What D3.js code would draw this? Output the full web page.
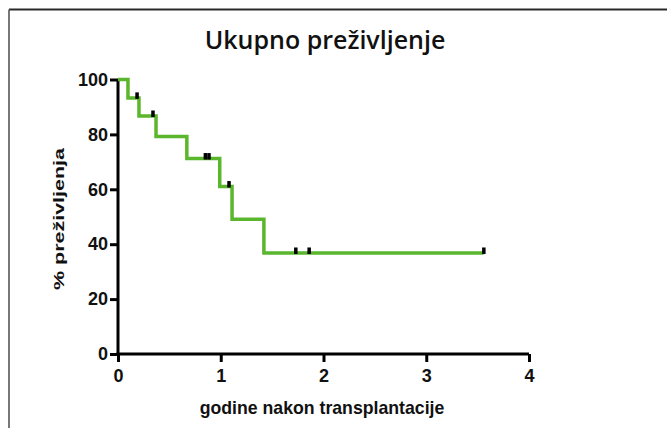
<!DOCTYPE html>
<html>
<head>
<meta charset="utf-8">
<script src="https://cdn.jsdelivr.net/npm/d3@7"></script>
<style>
  html, body { margin: 0; padding: 0; background: #fff; }
  svg { display: block; }
</style>
</head>
<body>
<svg id="chart" width="667" height="428"></svg>
<script>
// Kaplan-Meier overall survival: step drops (time in years, survival %)
const eventTimes  = [0, 0.097, 0.204, 0.37, 0.67, 0.99, 1.11, 1.42, 3.56];
const survival    = [100, 93.3, 86.7, 79.2, 71.2, 61.0, 49.1, 36.8, 36.8];
// Censored observations (time, survival level at that time)
const censorTimes = [0.185, 0.34, 0.85, 0.885, 1.08, 1.73, 1.86, 3.56];
const censorLevel = [93.3, 86.7, 71.2, 71.2, 61.0, 36.8, 36.8, 36.8];
const xTicks = [0, 1, 2, 3, 4];
const yTicks = [0, 20, 40, 60, 80, 100];

const svg = d3.select("#chart");

// outer frame
svg.append("line").attr("x1", 9).attr("x2", 667).attr("y1", 9.5).attr("y2", 9.5)
  .attr("stroke", "#2a2a2a").attr("stroke-width", 2);
svg.append("line").attr("x1", 9).attr("x2", 9).attr("y1", 9.5).attr("y2", 428)
  .attr("stroke", "#555").attr("stroke-width", 1.6);

const x = d3.scaleLinear().domain([0, 4]).range([118, 529]);
const y = d3.scaleLinear().domain([0, 100]).range([354, 79.5]);

const tickFont = "Liberation Sans, Arial, sans-serif";

// x axis
const gx = svg.append("g").attr("transform", `translate(0,${y(0)})`)
  .call(d3.axisBottom(x).tickValues(xTicks).tickFormat(d3.format("d"))
    .tickSizeInner(8).tickSizeOuter(0).tickPadding(7));
// y axis
const gy = svg.append("g").attr("transform", `translate(${x(0)},0)`)
  .call(d3.axisLeft(y).tickValues(yTicks).tickFormat(d3.format("d"))
    .tickSizeInner(8).tickSizeOuter(0).tickPadding(2));

[gx, gy].forEach(g => {
  g.select(".domain").attr("stroke", "#000").attr("stroke-width", 3);
  g.selectAll(".tick line").attr("stroke", "#000").attr("stroke-width", 3);
  g.selectAll(".tick text").attr("fill", "#111")
    .style("font-family", tickFont).style("font-weight", "bold").style("font-size", "18px");
});
gy.select(".domain").attr("d", `M0,${y(0) + 1.5}V${y(100)}`);
gx.select(".domain").attr("d", `M${x(0) - 1.5},0H${x(4)}`);

// survival curve
const pts = eventTimes.map((t, i) => [t, survival[i]]);
const line = d3.line().x(d => x(d[0])).y(d => y(d[1])).curve(d3.curveStepAfter);
svg.append("path").datum(pts).attr("d", line)
  .attr("fill", "none").attr("stroke", "#5ab62c").attr("stroke-width", 3.5);

// censor marks
svg.append("g").selectAll("rect").data(censorTimes).join("rect")
  .attr("x", d => x(d) - 1.7)
  .attr("y", (d, i) => y(censorLevel[i]) - 5.5)
  .attr("width", 3.5).attr("height", 6.5)
  .attr("fill", "#000");

// title
svg.append("text").attr("x", 325).attr("y", 49).attr("text-anchor", "middle")
  .style("font-family", "Open Sans, sans-serif").style("font-size", "25px")
  .style("font-weight", 600)
  .attr("fill", "#111").text("Ukupno preživljenje");

// axis titles
svg.append("text").attr("x", 322).attr("y", 414).attr("text-anchor", "middle")
  .style("font-family", tickFont).style("font-weight", "bold").style("font-size", "17.7px")
  .attr("fill", "#111").text("godine nakon transplantacije");

svg.append("text").attr("transform", "translate(64,219) rotate(-90)")
  .attr("text-anchor", "middle")
  .attr("textLength", 142).attr("lengthAdjust", "spacingAndGlyphs")
  .style("font-family", tickFont).style("font-weight", "bold").style("font-size", "15px")
  .attr("fill", "#111").text("% preživljenja");
</script>
</body>
</html>
